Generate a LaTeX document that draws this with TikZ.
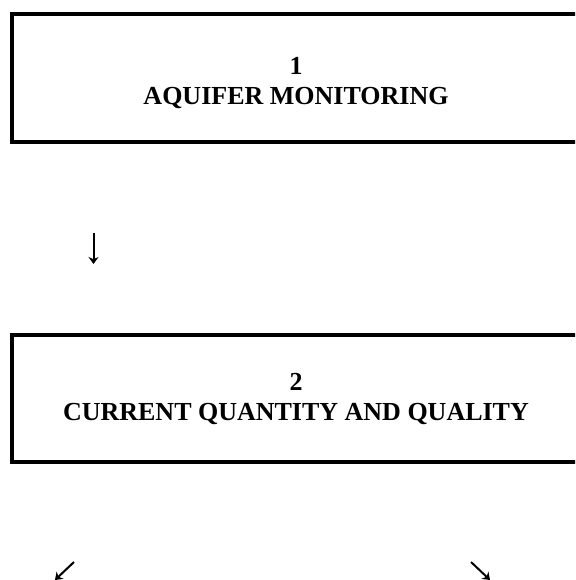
\documentclass[tikz,border=0pt]{standalone}
\usepackage{fontspec}
\setmainfont{Liberation Serif}
\usetikzlibrary{arrows.meta}

\tikzset{
	stagebox/.style={draw, line width=4pt, anchor=north west, minimum width=640pt, inner sep=0pt},
	stagetext/.style={align=center, inner sep=0pt, font=\fontsize{26}{30}\selectfont\bfseries},
	flow/.style={-{Stealth[black, length=7pt, width=10pt]}, line width=2pt}
}

\begin{document}
\begin{tikzpicture}[x=1pt, y=1pt]
		\useasboundingbox (0, 0) rectangle (575, -580);
		\clip (0, 0) rectangle (575, -580);

		% the two stages
		\node[stagebox, minimum height=128pt] (monitoring) at (10, -12) {};
		\node[stagebox, minimum height=127pt] (state) at (10, -333) {};
		\node[stagetext] (monitoringtext) at (296, -83) {1\\AQUIFER MONITORING};
		\node[stagetext] (statetext) at (296, -399) {2\\CURRENT QUANTITY AND QUALITY};

		% arrows in between
		\coordinate (down1) at (93.5, -233);
		\coordinate (down2) at (93.5, -264);
		\coordinate (left1) at (74, -562);
		\coordinate (left2) at (55, -580);
		\coordinate (right1) at (471, -562);
		\coordinate (right2) at (490, -580);
		\draw [flow] (down1) -- (down2);
		\draw [flow] (left1) -- (left2);
		\draw [flow] (right1) -- (right2);
	\end{tikzpicture}
\end{document}
